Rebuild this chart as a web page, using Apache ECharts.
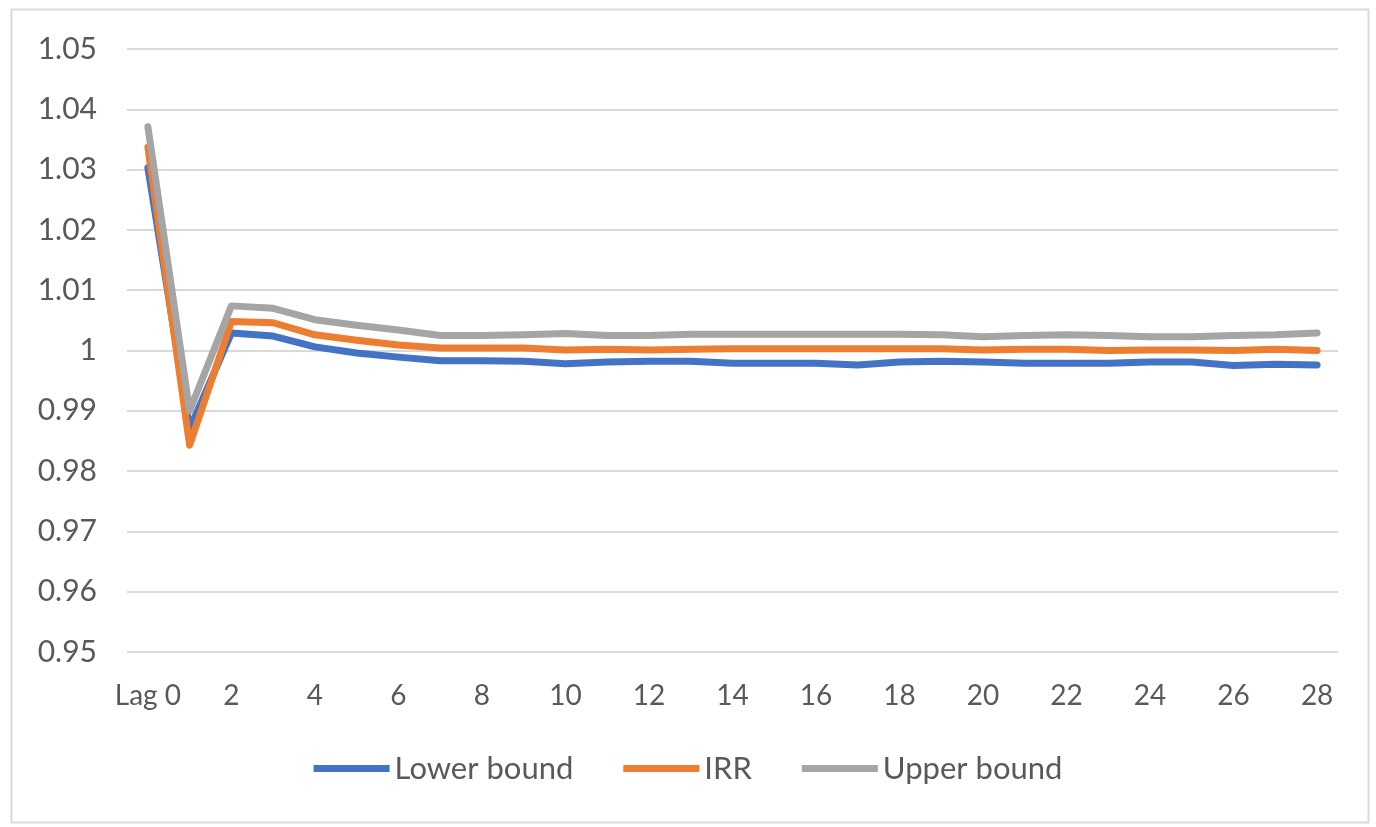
<!DOCTYPE html>
<html>
<head>
<meta charset="utf-8">
<script src="https://cdn.jsdelivr.net/npm/echarts@6/dist/echarts.min.js"></script>
<style>
html,body{margin:0;padding:0;background:#fff;}
#chart{width:1376px;height:827px;}
</style>
</head>
<body>
<div id="chart"></div>
<script>
const categories = ['Lag 0','1','2','3','4','5','6','7','8','9','10','11','12','13','14','15','16','17','18','19','20','21','22','23','24','25','26','27','28'];
const lowerBound = [1.0303,0.9870,1.0029,1.0024,1.0006,0.9996,0.9989,0.9983,0.9983,0.9982,0.9978,0.9981,0.9982,0.9982,0.9979,0.9979,0.9979,0.9976,0.9981,0.9982,0.9981,0.9979,0.9979,0.9979,0.9981,0.9981,0.9975,0.9977,0.9976];
const irr = [1.0337,0.9843,1.0048,1.0046,1.0026,1.0017,1.0009,1.0004,1.0004,1.0004,1.0001,1.0002,1.0001,1.0002,1.0003,1.0003,1.0003,1.0003,1.0003,1.0003,1.0001,1.0002,1.0002,1.0000,1.0001,1.0001,1.0000,1.0002,1.0000];
const upperBound = [1.0371,0.9900,1.0074,1.0070,1.0051,1.0042,1.0034,1.0025,1.0025,1.0026,1.0028,1.0025,1.0025,1.0027,1.0027,1.0027,1.0027,1.0027,1.0027,1.0026,1.0023,1.0025,1.0026,1.0025,1.0023,1.0023,1.0025,1.0026,1.0029];
const seriesNames = ['Lower bound','IRR','Upper bound'];
const colors = ['#4472C4','#ED7D31','#A5A5A5'];

const chart = echarts.init(document.getElementById('chart'));
const font = 'Lato, "Open Sans", sans-serif';
const lineStyle = {width: 7, cap: 'round', join: 'round'};
chart.setOption({
  animation: false,
  color: colors,
  graphic: [{
    type: 'rect', left: 9, top: 7,
    shape: {width: 1357, height: 813},
    style: {fill: 'none', stroke: '#d9d9d9', lineWidth: 2},
    silent: true
  }],
  grid: {left: 127, right: 38, top: 49, bottom: 175, containLabel: false},
  legend: {
    bottom: 38, left: 'center',
    icon: 'rect', itemWidth: 76, itemHeight: 7, itemGap: 50,
    textStyle: {fontFamily: font, fontSize: 31, color: '#595959'},
    data: seriesNames
  },
  xAxis: {
    type: 'category', data: categories, boundaryGap: true,
    axisLine: {show: false}, axisTick: {show: false},
    axisLabel: {interval: 1, fontFamily: font, fontSize: 28, color: '#595959', margin: 30}
  },
  yAxis: {
    type: 'value', min: 0.95, max: 1.05, interval: 0.01,
    axisLine: {show: false}, axisTick: {show: false},
    splitLine: {lineStyle: {color: '#d9d9d9', width: 2}},
    axisLabel: {fontFamily: font, fontSize: 30, color: '#595959', margin: 30,
      formatter: v => String(+v.toFixed(2))}
  },
  series: [
    {name: seriesNames[0], type: 'line', data: lowerBound, showSymbol: false, lineStyle: lineStyle},
    {name: seriesNames[1], type: 'line', data: irr, showSymbol: false, lineStyle: lineStyle},
    {name: seriesNames[2], type: 'line', data: upperBound, showSymbol: false, lineStyle: lineStyle}
  ]
});
</script>
</body>
</html>
